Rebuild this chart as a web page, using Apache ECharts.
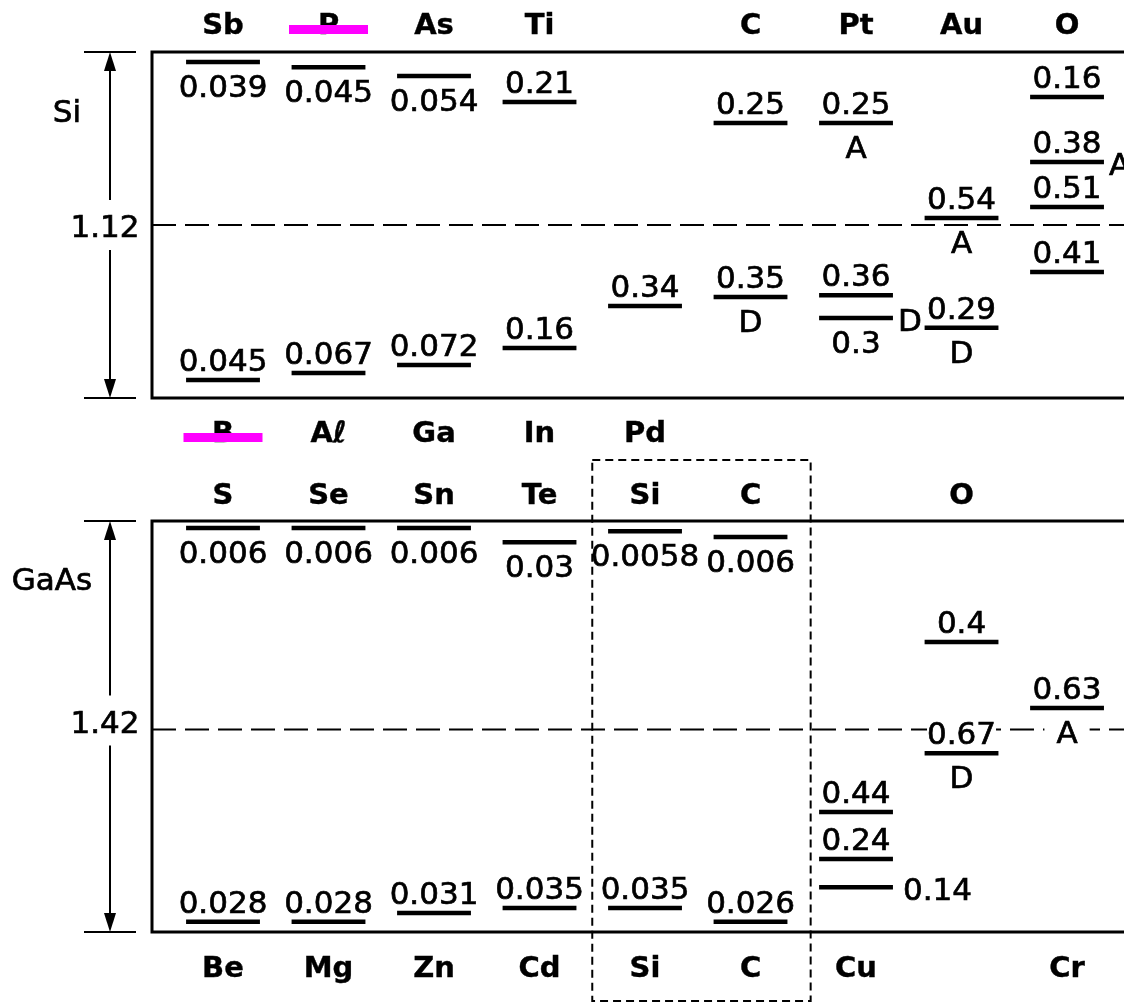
<!DOCTYPE html>
<html><head><meta charset="utf-8">
<script src="https://cdn.jsdelivr.net/npm/echarts@6/dist/echarts.min.js"></script>
<style>html,body{margin:0;padding:0;background:#fff}#c{width:1124px;height:1003px}</style>
</head><body><div id="c"></div>
<script>
// ---------- DATA ----------
const bandGaps = [1.12, 1.42];           // Si, GaAs (eV)
const materials = ['Si', 'GaAs'];
const midgapPos = [0.56, 0.70];          // drawn mid-gap line (eV above Ev)

// column element names (9 columns per panel)
const siTopNames    = ['Sb', 'P', 'As', 'Ti', '', 'C', 'Pt', 'Au', 'O'];
const siBottomNames = ['B', 'Aℓ', 'Ga', 'In', 'Pd', '', '', '', ''];
const gaasTopNames    = ['S', 'Se', 'Sn', 'Te', 'Si', 'C', '', 'O', ''];
const gaasBottomNames = ['Be', 'Mg', 'Zn', 'Cd', 'Si', 'C', 'Cu', '', 'Cr'];

// Si levels: column, drawn position (eV above Ev), label, label side, tag, tag side
const siCol   = [0, 1, 2, 3, 5, 6, 7, 8, 8, 8, 8, 4, 5, 6, 6, 7, 0, 1, 2, 3];
const siPos   = [1.088, 1.071, 1.042, 0.958, 0.890, 0.890, 0.583, 0.974, 0.764, 0.618, 0.408,
                 0.298, 0.327, 0.333, 0.259, 0.227, 0.058, 0.081, 0.107, 0.162];
const siText  = ['0.039', '0.045', '0.054', '0.21', '0.25', '0.25', '0.54', '0.16', '0.38', '0.51', '0.41',
                 '0.34', '0.35', '0.36', '0.3', '0.29', '0.045', '0.067', '0.072', '0.16'];
const siSide  = ['below', 'below', 'below', 'above', 'above', 'above', 'above', 'above', 'above', 'above', 'above',
                 'above', 'above', 'above', 'below', 'above', 'above', 'above', 'above', 'above'];
const siTag   = ['', '', '', '', '', 'A', 'A', '', 'A', '', '', '', 'D', '', 'D', 'D', '', '', '', ''];
const siTagSide = ['', '', '', '', '', 'below', 'below', '', 'right', '', '', '', 'below', '', 'right', 'below', '', '', '', ''];

// GaAs levels
const gaCol   = [0, 1, 2, 3, 4, 5, 7, 8, 7, 6, 6, 6, 0, 1, 2, 3, 4, 5];
const gaPos   = [1.396, 1.396, 1.396, 1.347, 1.385, 1.365, 1.002, 0.774, 0.618, 0.415, 0.252, 0.155,
                 0.035, 0.035, 0.066, 0.083, 0.083, 0.035];
const gaText  = ['0.006', '0.006', '0.006', '0.03', '0.0058', '0.006', '0.4', '0.63', '0.67', '0.44', '0.24', '0.14',
                 '0.028', '0.028', '0.031', '0.035', '0.035', '0.026'];
const gaSide  = ['below', 'below', 'below', 'below', 'below', 'below', 'above', 'above', 'above', 'above', 'above', 'right',
                 'above', 'above', 'above', 'above', 'above', 'above'];
const gaTag   = ['', '', '', '', '', '', '', 'A', 'D', '', '', '', '', '', '', '', '', ''];
const gaTagSide = ['', '', '', '', '', '', '', 'below', 'below', '', '', '', '', '', '', '', '', ''];

// magenta marks over element names: panel, row, column
const markPanel = [0, 0];
const markRow   = ['top', 'bottom'];
const markCol   = [1, 0];

// dashed highlight box in GaAs panel (column span)
const gaasBoxSpan = [3.5, 5.57];

// ---------- LAYOUT ----------
const X_MIN = -0.673, X_MAX = 8.540;
const HALF = 0.35;
const TY = 4; // vertical text nudge
const FONT_NUM = '31px "DejaVu Sans"';
const FONT_EL = 'bold 29px "DejaVu Sans"';
const panels = [
  { top: 52, height: 346, nameDx: -43, nameDy: 58, elTop: -30, elBot: 32, egDy: 0 },
  { top: 521, height: 411, nameDx: -58, nameDy: 57, elTop: -29, elBot: 33, egDy: -6 }
];

function txt(s, x, y, align, font, bg) {
  const st = { text: s, fill: '#000', font: font || FONT_NUM, align: align || 'center', verticalAlign: 'middle',
    stroke: '#000', lineWidth: font ? 0.4 : 0.7 };
  if (bg) { st.backgroundColor = '#fff'; st.padding = bg; }
  return { type: 'text', z2: 5, x: x, y: y + TY, style: st };
}

function levelSeries(pi, cols, pos, texts, sides, tags, tagSides) {
  return {
    type: 'custom', xAxisIndex: pi, yAxisIndex: pi, z: 3, silent: true, animation: false,
    data: cols.map((c, i) => [c, pos[i], i]),
    renderItem: function (params, api) {
      const i = api.value(2);
      const p = api.coord([api.value(0), api.value(1)]);
      const hw = api.size([HALF, 0])[0];
      const ch = [{ type: 'line', z2: 10, shape: { x1: p[0] - hw, y1: p[1], x2: p[0] + hw, y2: p[1] },
        style: { stroke: '#000', lineWidth: 4.5 } }];
      const s = sides[i];
      if (s === 'above') ch.push(txt(texts[i], p[0], p[1] - 21, 'center', null, [0, 0]));
      else if (s === 'below') ch.push(txt(texts[i], p[0], p[1] + 23, 'center', null, [0, 0]));
      else ch.push(txt(texts[i], p[0] + hw + 10, p[1] + 1, 'left', null, [0, 0]));
      if (tags[i]) {
        const ts = tagSides[i];
        if (ts === 'below') ch.push(txt(tags[i], p[0], p[1] + 23, 'center', null, [0, 12]));
        else ch.push(txt(tags[i], p[0] + hw + 5, p[1] + 1, 'left', null, [0, 0]));
      }
      return { type: 'group', children: ch };
    }
  };
}

function nameSeries(pi, topNames, botNames) {
  const data = [], names = [];
  topNames.forEach((n, c) => { if (n) { data.push([c, 0, data.length]); names.push(['top', n, c]); } });
  botNames.forEach((n, c) => { if (n) { data.push([c, 0, data.length]); names.push(['bottom', n, c]); } });
  const pan = panels[pi];
  return {
    type: 'custom', xAxisIndex: pi, yAxisIndex: pi, z: 3, silent: true, animation: false,
    data: data,
    renderItem: function (params, api) {
      const k = api.value(2);
      const row = names[k][0], name = names[k][1], col = names[k][2];
      const x = api.coord([col, 0])[0];
      const yTop = api.coord([col, bandGaps[pi]])[1], yBot = api.coord([col, 0])[1];
      const y = row === 'top' ? yTop + pan.elTop : yBot + pan.elBot;
      const ch = [txt(name, x, y, 'center', FONT_EL)];
      for (let m = 0; m < markPanel.length; m++) {
        if (markPanel[m] === pi && markRow[m] === row && markCol[m] === col) {
          ch.push({ type: 'rect', z2: 20, shape: { x: x - 39.5, y: y + 3, width: 79, height: 9 },
            style: { fill: '#ff00ff' } });
        }
      }
      return { type: 'group', children: ch };
    }
  };
}

function frameSeries(pi) {
  const pan = panels[pi];
  return {
    type: 'custom', xAxisIndex: pi, yAxisIndex: pi, z: 3, silent: true, animation: false,
    data: [[X_MIN, 0]],
    renderItem: function (params, api) {
      const top = api.coord([X_MIN, bandGaps[pi]])[1];
      const bot = api.coord([X_MIN, 0])[1];
      const left = api.coord([X_MIN, 0])[0];
      const right = api.getWidth() + 10;
      const ax = left - 42;
      const mid = (top + bot) / 2;
      const ls = { stroke: '#000', lineWidth: 2, fill: 'none' };
      const fs = { stroke: '#000', lineWidth: 3, fill: 'none' };
      return { type: 'group', children: [
        { type: 'polyline', shape: { points: [[right, top], [left, top], [left, bot], [right, bot]] }, style: fs },
        { type: 'line', shape: { x1: ax - 26, y1: top, x2: ax + 26, y2: top }, style: ls },
        { type: 'line', shape: { x1: ax - 26, y1: bot, x2: ax + 26, y2: bot }, style: ls },
        { type: 'line', shape: { x1: ax, y1: top + 10, x2: ax, y2: mid + pan.egDy - 25 }, style: ls },
        { type: 'line', shape: { x1: ax, y1: mid + pan.egDy + 25, x2: ax, y2: bot - 10 }, style: ls },
        { type: 'polygon', shape: { points: [[ax, top], [ax - 6, top + 19], [ax + 6, top + 19]] }, style: { fill: '#000' } },
        { type: 'polygon', shape: { points: [[ax, bot], [ax - 6, bot - 19], [ax + 6, bot - 19]] }, style: { fill: '#000' } },
        txt(bandGaps[pi].toFixed(2), ax - 5, mid + pan.egDy, 'center'),
        txt(materials[pi], ax + pan.nameDx, top + pan.nameDy, 'center')
      ] };
    }
  };
}

function midgapSeries(pi) {
  return {
    type: 'line', xAxisIndex: pi, yAxisIndex: pi, z: 1, silent: true, animation: false,
    symbol: 'none', data: [[X_MIN, midgapPos[pi]], [X_MAX, midgapPos[pi]]],
    lineStyle: { color: '#000', width: 2, type: [24, 9] }
  };
}

const boxSeries = {
  type: 'custom', xAxisIndex: 1, yAxisIndex: 1, z: 10, silent: true, animation: false,
  data: [[gaasBoxSpan[0], 0]],
  renderItem: function (params, api) {
    const x0 = api.coord([gaasBoxSpan[0], 0])[0], x1 = api.coord([gaasBoxSpan[1], 0])[0];
    const top = api.coord([0, bandGaps[1]])[1] - 61, bot = api.coord([0, 0])[1] + 69;
    return { type: 'rect', shape: { x: x0, y: top, width: x1 - x0, height: bot - top },
      style: { fill: 'none', stroke: '#000', lineWidth: 2, lineDash: [8, 5] } };
  }
};

const chart = echarts.init(document.getElementById('c'));
chart.setOption({
  backgroundColor: '#fff',
  animation: false,
  grid: panels.map(p => ({ left: 152, top: p.top, right: 0, height: p.height, show: false })),
  xAxis: [0, 1].map(i => ({ type: 'value', gridIndex: i, min: X_MIN, max: X_MAX, show: false })),
  yAxis: [0, 1].map(i => ({ type: 'value', gridIndex: i, min: 0, max: bandGaps[i], show: false })),
  series: [
    midgapSeries(0), midgapSeries(1),
    levelSeries(0, siCol, siPos, siText, siSide, siTag, siTagSide),
    levelSeries(1, gaCol, gaPos, gaText, gaSide, gaTag, gaTagSide),
    nameSeries(0, siTopNames, siBottomNames),
    nameSeries(1, gaasTopNames, gaasBottomNames),
    frameSeries(0), frameSeries(1),
    boxSeries
  ]
});
</script>
</body></html>
